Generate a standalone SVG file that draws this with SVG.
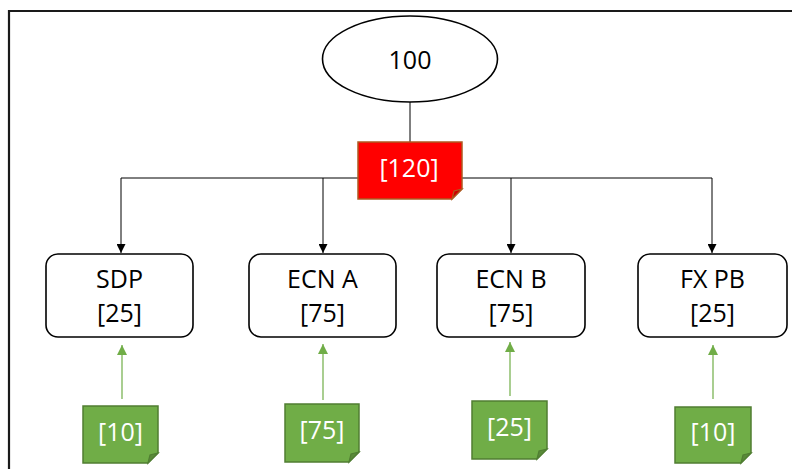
<svg xmlns="http://www.w3.org/2000/svg" width="792" height="469" viewBox="0 0 792 469">
  <defs>
    <style>
      text { font-family: "Open Sans", "Liberation Sans", sans-serif; font-size: 25px; text-anchor: middle; }
      .dark { fill: #000000; }
      .light { fill: #ffffff; }
      .frame { fill: none; stroke: #1a1a1a; stroke-width: 2.2; }
      .box { fill: #ffffff; stroke: #000000; stroke-width: 1.6; }
      .wire { fill: none; stroke: #000000; stroke-width: 1; }
      .feed { fill: none; stroke: #70AD47; stroke-width: 1.2; }
      .red { fill: #FF0000; stroke: #AE5A21; stroke-width: 1.5; }
      .redfold { fill: #CC0000; stroke: #AE5A21; stroke-width: 1.2; }
      .green { fill: #70AD47; stroke: #507E32; stroke-width: 1.5; }
      .greenfold { fill: #5A8A39; stroke: #507E32; stroke-width: 1.2; }
    </style>
    <marker id="arrowBlack" viewBox="0 0 10 10" refX="10" refY="5" markerWidth="9" markerHeight="9" markerUnits="userSpaceOnUse" orient="auto">
      <path d="M0,0 L10,5 L0,10 Z" fill="#000000"/>
    </marker>
    <marker id="arrowGreen" viewBox="0 0 10 10" refX="10" refY="5" markerWidth="10" markerHeight="10" markerUnits="userSpaceOnUse" orient="auto">
      <path d="M0,0 L10,5 L0,10 Z" fill="#70AD47"/>
    </marker>
  </defs>

  <rect width="792" height="469" fill="#ffffff"/>

  <!-- outer frame (left and top edges) -->
  <path class="frame" d="M9,469 V11 H792"/>

  <!-- connectors -->
  <g id="connectors">
    <path class="wire" d="M410,102 V142"/>
    <path class="wire" d="M121,178 H712"/>
    <path class="wire" d="M121,178 V253" marker-end="url(#arrowBlack)"/>
    <path class="wire" d="M323,178 V253" marker-end="url(#arrowBlack)"/>
    <path class="wire" d="M511,178 V253" marker-end="url(#arrowBlack)"/>
    <path class="wire" d="M712,178 V253" marker-end="url(#arrowBlack)"/>
    <path class="feed" d="M122,399 V345" marker-end="url(#arrowGreen)"/>
    <path class="feed" d="M323,400 V344" marker-end="url(#arrowGreen)"/>
    <path class="feed" d="M510,396 V342" marker-end="url(#arrowGreen)"/>
    <path class="feed" d="M713,399 V345" marker-end="url(#arrowGreen)"/>
  </g>

  <!-- root -->
  <g id="root">
    <ellipse cx="410" cy="59" rx="87.5" ry="43" fill="#ffffff" stroke="#000000" stroke-width="1.6"/>
    <text class="dark" x="410" y="69">100</text>
  </g>

  <!-- total note -->
  <g id="total">
    <path class="red" d="M358,142 H462 V189 L452,199 H358 Z"/>
    <path class="redfold" d="M452,199 L454,191 L462,189 Z"/>
    <text class="light" x="409" y="177">[120]</text>
  </g>

  <!-- venues -->
  <g id="sdp">
    <rect class="box" x="46" y="254" width="147" height="83" rx="12"/>
    <text class="dark" x="119.5" y="288">SDP</text>
    <text class="dark" x="119.5" y="322">[25]</text>
  </g>
  <g id="ecn-a">
    <rect class="box" x="249" y="254" width="147" height="83" rx="12"/>
    <text class="dark" x="322.5" y="288">ECN A</text>
    <text class="dark" x="322.5" y="322">[75]</text>
  </g>
  <g id="ecn-b">
    <rect class="box" x="437" y="254" width="148" height="83" rx="12"/>
    <text class="dark" x="511" y="288">ECN B</text>
    <text class="dark" x="511" y="322">[75]</text>
  </g>
  <g id="fx-pb">
    <rect class="box" x="638" y="254" width="149" height="83" rx="12"/>
    <text class="dark" x="712.5" y="288">FX PB</text>
    <text class="dark" x="712.5" y="322">[25]</text>
  </g>

  <!-- incoming amounts -->
  <g id="in-sdp">
    <path class="green" d="M83,406 H158 V453 L148,463 H83 Z"/>
    <path class="greenfold" d="M148,463 L150,455 L158,453 Z"/>
    <text class="light" x="120.5" y="441">[10]</text>
  </g>
  <g id="in-ecn-a">
    <path class="green" d="M285,404 H359 V452 L349,462 H285 Z"/>
    <path class="greenfold" d="M349,462 L351,454 L359,452 Z"/>
    <text class="light" x="322" y="439">[75]</text>
  </g>
  <g id="in-ecn-b">
    <path class="green" d="M472,401 H547 V449 L537,459 H472 Z"/>
    <path class="greenfold" d="M537,459 L539,451 L547,449 Z"/>
    <text class="light" x="509.5" y="436">[25]</text>
  </g>
  <g id="in-fx-pb">
    <path class="green" d="M675,407 H751 V453 L741,463 H675 Z"/>
    <path class="greenfold" d="M741,463 L743,455 L751,453 Z"/>
    <text class="light" x="713" y="441">[10]</text>
  </g>
</svg>
